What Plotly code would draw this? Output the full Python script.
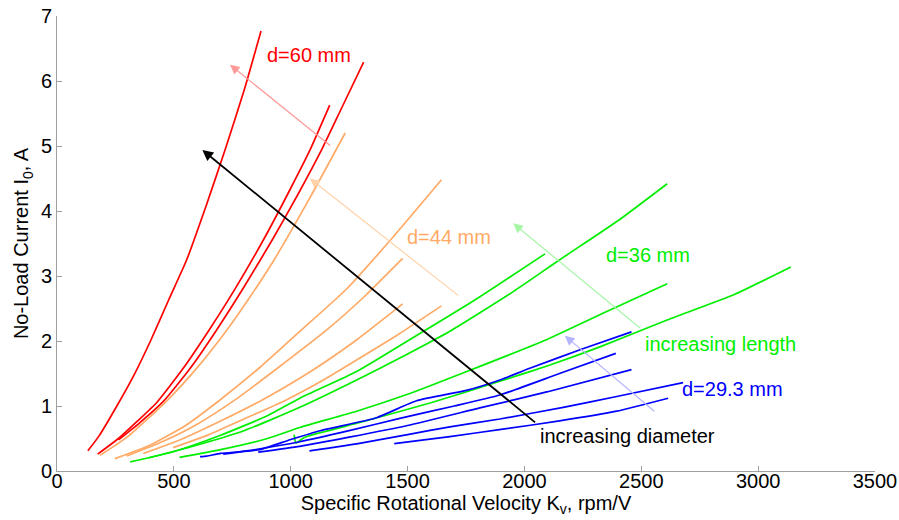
import plotly.graph_objects as go

# Specific rotational velocity Kv (rpm/V) and no-load current I0 (A) per motor
# d = 60 mm
red_1_kv = [132, 180, 256, 330, 400, 480, 555, 640, 720, 800, 873]
red_1_i0 = [0.31, 0.54, 1.0, 1.48, 2.0, 2.65, 3.25, 4.1, 4.95, 5.85, 6.77]
red_2_kv = [174, 263, 345, 426, 540, 651, 760, 890, 1000, 1080, 1167]
red_2_i0 = [0.26, 0.5, 0.77, 1.05, 1.58, 2.17, 2.79, 3.6, 4.35, 4.92, 5.63]
red_3_kv = [263, 350, 455, 570, 683, 800, 925, 1030, 1132, 1220, 1312]
red_3_i0 = [0.48, 0.73, 1.07, 1.58, 2.17, 2.83, 3.58, 4.25, 4.94, 5.6, 6.29]

# d = 44 mm
orange_1_kv = [184, 300, 470, 600, 727, 830, 924, 1080, 1233]
orange_1_i0 = [0.24, 0.52, 1.08, 1.59, 2.17, 2.7, 3.22, 4.19, 5.2]
orange_2_kv = [248, 400, 550, 700, 870, 1046, 1239, 1438, 1645]
orange_2_i0 = [0.19, 0.4, 0.7, 1.1, 1.6, 2.17, 2.8, 3.6, 4.48]
orange_3_kv = [298, 450, 600, 760, 950, 1154, 1320, 1479]
orange_3_i0 = [0.23, 0.45, 0.72, 1.09, 1.6, 2.17, 2.7, 3.27]
orange_4_kv = [369, 520, 700, 876, 1080, 1283, 1479]
orange_4_i0 = [0.27, 0.47, 0.77, 1.09, 1.52, 2.02, 2.57]
orange_5_kv = [497, 650, 800, 979, 1130, 1283, 1460, 1645]
orange_5_i0 = [0.36, 0.56, 0.8, 1.09, 1.38, 1.71, 2.1, 2.54]

# d = 36 mm
green_1_kv = [313, 500, 700, 900, 1039, 1282, 1500, 1788, 2088]
green_1_i0 = [0.14, 0.3, 0.55, 0.85, 1.12, 1.53, 2.0, 2.63, 3.34]
green_2_kv = [392, 600, 800, 1039, 1282, 1500, 1681, 1952, 2151, 2400, 2611]
green_2_i0 = [0.2, 0.4, 0.62, 0.98, 1.4, 1.8, 2.15, 2.76, 3.25, 3.85, 4.42]
green_3_kv = [524, 700, 900, 1039, 1282, 1500, 1767, 2094, 2350, 2611]
green_3_i0 = [0.21, 0.33, 0.5, 0.67, 0.92, 1.18, 1.55, 2.02, 2.45, 2.88]
green_4_kv = [1015, 1022, 1060, 1300, 1600, 1895, 2100, 2323, 2608, 2900, 3140]
green_4_i0 = [0.56, 0.43, 0.52, 0.75, 1.05, 1.38, 1.62, 1.91, 2.32, 2.72, 3.14]

# d = 29.3 mm
blue_1_kv = [612, 640, 700, 868, 997, 1125, 1367, 1538, 1752, 1895, 2023, 2250, 2458]
blue_1_i0 = [0.22, 0.23, 0.27, 0.33, 0.48, 0.62, 0.82, 1.08, 1.24, 1.4, 1.58, 1.88, 2.14]
blue_2_kv = [711, 850, 1039, 1250, 1467, 1700, 1895, 2150, 2391]
blue_2_i0 = [0.26, 0.33, 0.45, 0.62, 0.81, 1.0, 1.17, 1.5, 1.81]
blue_3_kv = [861, 1039, 1250, 1500, 1809, 2100, 2458]
blue_3_i0 = [0.29, 0.38, 0.52, 0.7, 0.97, 1.22, 1.56]
blue_4_kv = [1080, 1300, 1500, 1681, 1895, 2166, 2400, 2679]
blue_4_i0 = [0.31, 0.43, 0.56, 0.68, 0.8, 0.98, 1.15, 1.36]
blue_5_kv = [1443, 1681, 1900, 2150, 2394, 2615]
blue_5_i0 = [0.42, 0.53, 0.64, 0.77, 0.92, 1.12]

RED = "#FF0000"
ORANGE = "#FFAA66"
GREEN = "#00EE00"
BLUE = "#0000FF"
FONT = "Liberation Sans, Arial, Helvetica, sans-serif"

series = [
    (red_1_kv, red_1_i0, RED), (red_2_kv, red_2_i0, RED), (red_3_kv, red_3_i0, RED),
    (orange_1_kv, orange_1_i0, ORANGE), (orange_2_kv, orange_2_i0, ORANGE),
    (orange_3_kv, orange_3_i0, ORANGE), (orange_4_kv, orange_4_i0, ORANGE),
    (orange_5_kv, orange_5_i0, ORANGE),
    (green_1_kv, green_1_i0, GREEN), (green_2_kv, green_2_i0, GREEN),
    (green_3_kv, green_3_i0, GREEN), (green_4_kv, green_4_i0, GREEN),
    (blue_1_kv, blue_1_i0, BLUE), (blue_2_kv, blue_2_i0, BLUE),
    (blue_3_kv, blue_3_i0, BLUE), (blue_4_kv, blue_4_i0, BLUE),
    (blue_5_kv, blue_5_i0, BLUE),
]

fig = go.Figure()
for kv, i0, color in series:
    fig.add_trace(go.Scatter(x=kv, y=i0, mode="lines",
                             line=dict(color=color, width=1.7, shape="spline",
                                       smoothing=0.5),
                             showlegend=False, hoverinfo="skip"))

# Direction arrows: (head x, head y, tail x, tail y, colour, width)
arrows = [
    (622, 4.94, 2052, 0.73, "#000000", 1.8),
    (740, 6.25, 1175, 4.99, "#FF9A9A", 1.2),
    (1082, 4.5, 1724, 2.68, "#FFD2AA", 1.2),
    (1952, 3.81, 2501, 2.18, "#A8F5A8", 1.2),
    (2173, 2.08, 2562, 0.9, "#B4B4FF", 1.2),
]
for hx, hy, tx, ty, color, w in arrows:
    fig.add_annotation(x=hx, y=hy, ax=tx, ay=ty, xref="x", yref="y",
                       axref="x", ayref="y", text="", showarrow=True,
                       arrowhead=2, arrowsize=1.2 if w > 1.5 else 1.6,
                       arrowwidth=w, arrowcolor=color)

# Text labels: (text, x, y, colour)
labels = [
    ("d=60 mm", 891, 6.40, RED),
    ("d=44 mm", 1488, 3.60, ORANGE),
    ("d=36 mm", 2340, 3.32, GREEN),
    ("increasing length", 2508, 1.96, GREEN),
    ("d=29.3 mm", 2665, 1.26, BLUE),
    ("increasing diameter", 2059, 0.54, "#000000"),
]
for text, x, y, color in labels:
    fig.add_annotation(x=x, y=y, xref="x", yref="y", text=text,
                       showarrow=False, xanchor="left", yanchor="middle",
                       font=dict(family=FONT, size=20, color=color))

axis_common = dict(showgrid=False, zeroline=False, showline=True,
                   linecolor="#A0A0A0", linewidth=1, ticks="inside",
                   ticklen=5, tickcolor="#A0A0A0", mirror=False,
                   automargin=False,
                   tickfont=dict(family=FONT, size=20, color="#000000"))

fig.update_layout(
    width=899, height=520, autosize=False,
    margin=dict(l=57, r=24, t=16, b=49),
    paper_bgcolor="white", plot_bgcolor="white",
    xaxis=dict(range=[0, 3500], tickvals=[0, 500, 1000, 1500, 2000, 2500, 3000, 3500],
               ticklabelstandoff=-8,
               title=dict(text="Specific Rotational Velocity K<sub>v</sub>, rpm/V",
                          font=dict(family=FONT, size=20, color="#000000"),
                          standoff=2),
               **axis_common),
    yaxis=dict(range=[0, 7], tickvals=[0, 1, 2, 3, 4, 5, 6, 7],
               title=dict(text="No-Load Current I<sub>0</sub>, A",
                          font=dict(family=FONT, size=20, color="#000000"),
                          standoff=6),
               **axis_common),
)

fig.write_html("out.html")
